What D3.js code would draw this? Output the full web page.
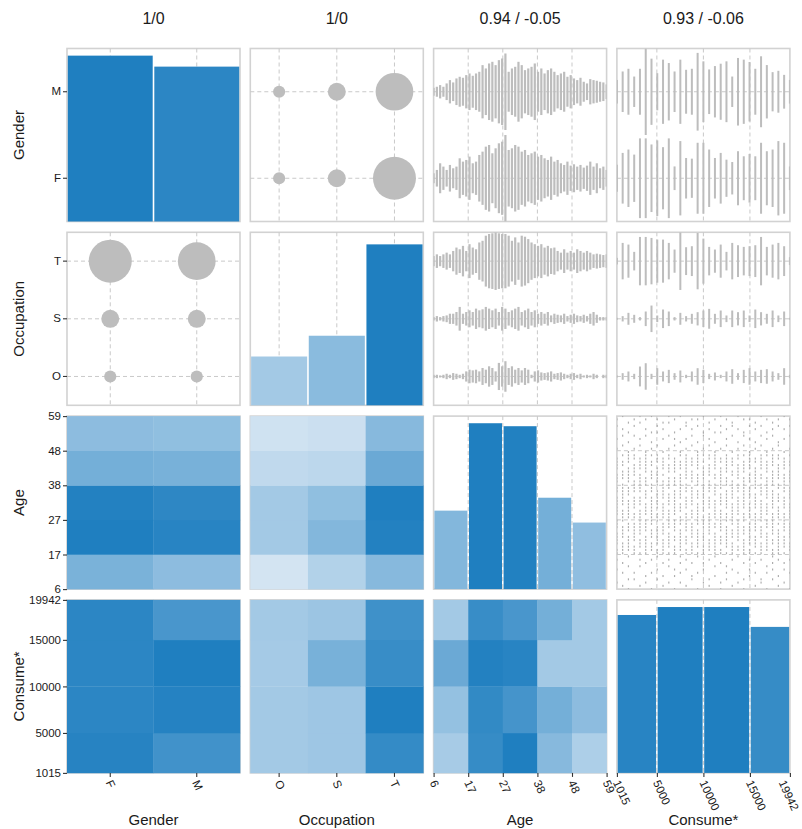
<!DOCTYPE html>
<html><head><meta charset="utf-8">
<script src="https://cdn.jsdelivr.net/npm/d3@7"></script>
<style>
body{margin:0;background:#fff;}
svg text{font-family:"Liberation Sans",Arial,Helvetica,sans-serif;fill:#1a1a1a;}
</style></head><body>
<svg id="chart" width="802" height="829"></svg>
<script>
// ---------------- DATA ----------------
const varNames = ["Gender","Occupation","Age","Consume*"];
const headerLabels = ["1/0","1/0","0.94 / -0.05","0.93 / -0.06"];
const genderCats = ["F","M"];
const occupationCats = ["O","S","T"];
const ageLevels = d3.range(6,60);
const ageBinEdges = [6,16.6,27.2,37.8,48.4,59];
const consumeBinEdges = [1015,5000,10000,15000,19942];
const consumeLevels = [1015,1590,2165,2740,3315,3890,4465,5043,5663,6283,6902,7522,8141,8761,9380,10000,10619,11239,11859,12478,13098,13717,14337,14956,15663,16376,17090,17803,18516,19229,19942];

// diagonal histograms
const genderHist = [166,155];
const occupationHist = [47,67,155];
const ageHist = [79,167,164,92,67];
const consumeHist = [159,167,167,147];

// Gender x Occupation counts (bubble)
const bubbleF = [8,17.5,100];
const bubbleM = [8,17.5,77];

// Age (6..59) counts per gender
const ageCountF = [15,25,45,35,25,40,30,35,60,50,55,65,45,50,70,80,95,100,75,90,105,110,130,85,90,100,95,80,85,70,75,80,65,70,60,55,65,50,55,45,40,50,38,42,35,40,32,38,50,35,45,30,35,25];
const ageCountM = [12,15,20,15,25,35,28,40,45,42,50,55,48,55,60,80,70,85,90,80,95,100,115,60,70,75,90,80,65,70,75,85,60,70,55,65,70,60,50,55,60,45,50,40,35,42,30,25,38,35,33,30,28,22];
// Age counts per occupation
const ageCountO = [5,5,3,5,8,5,10,8,5,8,15,20,18,20,15,25,20,30,25,15,40,30,45,25,30,20,25,18,25,20,5,15,18,12,10,12,15,8,10,12,8,5,8,10,5,8,3,5,3,8,5,0,5,5];
const ageCountS = [5,8,5,8,10,15,15,20,35,15,20,25,20,30,25,28,35,30,25,30,20,35,30,20,25,30,35,20,25,30,20,25,15,20,15,20,10,15,12,10,15,8,12,15,10,8,12,8,15,20,12,5,5,5];
const ageCountT = [15,20,15,20,25,20,30,40,35,45,30,50,40,35,55,60,75,80,82,85,82,80,80,75,60,70,55,75,72,65,55,50,45,50,40,45,38,40,30,25,35,25,30,25,35,30,25,30,25,20,22,20,18,20];
// Consume level counts per gender
const consumeCountF = [40,75,85,70,118,118,100,112,92,118,35,110,60,58,105,105,85,60,75,55,48,80,65,72,65,105,80,85,110,105,35];
const consumeCountM = [35,60,68,45,68,128,98,55,95,85,60,95,65,68,115,90,66,76,83,90,45,100,95,88,68,105,79,58,62,50,35];
// Consume level counts per occupation
const consumeCountO = [3,10,15,8,30,40,8,25,15,20,10,18,5,15,25,20,8,12,5,15,22,10,20,25,15,20,22,15,10,25,5];
const consumeCountS = [3,8,18,12,5,22,40,10,28,22,5,18,8,15,20,25,30,15,25,10,25,20,25,10,28,20,15,25,10,22,3];
const consumeCountT = [10,55,50,28,73,73,70,65,65,55,35,87,42,45,85,68,43,35,50,28,55,48,43,45,48,73,43,50,55,45,12];

// heatmaps: Age bins (young -> old)
const heatAgeF = [52,100,98,55,42];
const heatAgeM = [42,95,92,53,40];
const heatAgeO = [5,30,30,15,7];
const heatAgeS = [22,47,40,17,9];
const heatAgeT = [45,98,100,60,45];
// heatmaps: Consume bins (low -> high)
const heatConsumeF = [96,93,93,93];
const heatConsumeM = [82,97,100,78];
const heatConsumeO = [30,30,29,30];
const heatConsumeS = [33,33,53,34];
const heatConsumeT = [89,100,87,83];
// Consume bins per Age bin
const heatConsumeAge0 = [28,38,60,30];
const heatConsumeAge1 = [88,90,98,87];
const heatConsumeAge2 = [100,80,95,78];
const heatConsumeAge3 = [45,55,30,55];
const heatConsumeAge4 = [25,42,30,30];

// Age x Consume dots: one string per consume level, one char per age 6..59
const ageConsumeDots = [
"001000100101101111011101111110110111011110010010001010",
"010001001001111011110111101111111011101101001001010001",
"100100010010111110111011111101110111110111100100100100",
"000101000001110111111011011110111101111011010001001010",
"010000010101011101111111101110111111011110001010000101",
"001010001001111110111101111011101110111111100001010010",
"100001000100111011101111111110111011101101010100100001",
"000100100011101111110111011111101111110111001000101010",
"010010001001111101111011111011111101011110100010010100",
"001000010101011111011111101111011110111011010001000101",
"100010100001110110111101111111101110111110001010100010",
"001001001010111111101110111011111111011101100100010001",
"010000100101101110111111011110111011111111010010001100",
"000110001001111011111011101111110111101110001001010010",
"100001000011011111101111111011101111011111100100001010",
"001000101001110111011110111111111011110101010001100001",
"010100000100111101111111011110111101111011001010010100",
"000010010011111111011011111101111011011111100100100010",
"101000001001101110111111101111011111110110010000101001",
"000101010001011111110111011111101110111111001010010010",
"010000100101111011101111111011111101101110100001001100",
"001001000010110111111101111110111011111011010100010001",
"100100001001111101110111011111111110111101001001100010",
"000010100101101111111011111011110111011111100010001010",
"010001001001011110111111011111011111110110010100010100",
"001100000101111011110111111101111011011111001001001001",
"100001010000111111011101111011111110111101100010100010",
"000100101011101101111111011111101111101111010001010100",
"010010000101111111101011110111011011111011001100001010",
"001000101001011110111111011110111111011110100010010001",
"100001000100111011111011111011110111101101010001001010"
];

// ---------------- LAYOUT ----------------
const svg = d3.select("#chart");
const size = 173;
const colX = j => 67 + j*183.3;
const rowY = i => 48.5 + i*183.8;
const interp = d3.interpolateRgb("#dce9f5","#1f7fc0");
const gray = "#bdbdbd";
const gridColor = "#c9c9c9";

svg.append("defs").append("clipPath").attr("id","clip")
  .append("rect").attr("x",0).attr("y",0).attr("width",size).attr("height",size);

const vars = [
  {key:"gender", type:"cat", cats:genderCats},
  {key:"occupation", type:"cat", cats:occupationCats},
  {key:"age", type:"num", edges:ageBinEdges, levels:ageLevels},
  {key:"consume", type:"num", edges:consumeBinEdges, levels:consumeLevels}
];
const consumeFrac = [0,0.231,0.5,0.769,1];

function scaleFor(v, axis){
  const r = axis==="x" ? [0,size] : [size,0];
  if (v.type==="cat") return d3.scaleBand().domain(v.cats).range(r);
  if (v.key==="age") return d3.scaleLinear().domain([6,59]).range(r);
  return d3.scaleLinear().domain(consumeBinEdges)
    .range(consumeFrac.map(f => axis==="x" ? f*size : size - f*size));
}
function gridV(g, xs){
  g.selectAll(null).data(xs).join("line")
    .attr("x1",d=>d).attr("x2",d=>d).attr("y1",0).attr("y2",size)
    .attr("stroke",gridColor).attr("stroke-width",1).attr("stroke-dasharray","4,3");
}
function gridH(g, ys){
  g.selectAll(null).data(ys).join("line")
    .attr("y1",d=>d).attr("y2",d=>d).attr("x1",0).attr("x2",size)
    .attr("stroke",gridColor).attr("stroke-width",1).attr("stroke-dasharray","4,3");
}
function centers(v, s){ return v.cats.map(c => s(c) + s.bandwidth()/2); }
function innerEdges(v, s){ return v.edges.slice(1,-1).map(e => s(e)); }

const histData = [genderHist, occupationHist, ageHist, consumeHist];
const bubbleByGender = {F:bubbleF, M:bubbleM};
const stripData = {
  "gender-age": {levels:ageLevels, counts:{F:ageCountF, M:ageCountM}, w:2.2},
  "gender-consume": {levels:consumeLevels, counts:{F:consumeCountF, M:consumeCountM}, w:2.0},
  "occupation-age": {levels:ageLevels, counts:{O:ageCountO, S:ageCountS, T:ageCountT}, w:2.2},
  "occupation-consume": {levels:consumeLevels, counts:{O:consumeCountO, S:consumeCountS, T:consumeCountT}, w:2.0}
};
const heatData = {
  "age-gender": [heatAgeF, heatAgeM],
  "age-occupation": [heatAgeO, heatAgeS, heatAgeT],
  "consume-gender": [heatConsumeF, heatConsumeM],
  "consume-occupation": [heatConsumeO, heatConsumeS, heatConsumeT],
  "consume-age": [heatConsumeAge0, heatConsumeAge1, heatConsumeAge2, heatConsumeAge3, heatConsumeAge4]
};

function drawHist(g, v, counts){
  const x = scaleFor(v,"x");
  const maxC = d3.max(counts);
  const y = d3.scaleLinear().domain([0, maxC*1.043]).range([size,0]);
  let bars;
  if (v.type==="cat"){
    gridV(g, centers(v,x));
    bars = v.cats.map((c,k)=>({x0:x(c), x1:x(c)+x.bandwidth(), n:counts[k]}));
  } else {
    gridV(g, innerEdges(v,x));
    bars = counts.map((n,k)=>({x0:x(v.edges[k]), x1:x(v.edges[k+1]), n}));
  }
  const yTop = v.key==="occupation" ? d3.scaleLinear().domain([0, maxC*1.075]).range([size,0]) : y;
  g.selectAll(null).data(bars).join("rect")
    .attr("x",d=>d.x0+0.8).attr("width",d=>d.x1-d.x0-1.6)
    .attr("y",d=>yTop(d.n)).attr("height",d=>size-yTop(d.n))
    .attr("fill",d=>interp(d.n/maxC));
}

function drawBubbles(g, rowV, colV){
  const y = scaleFor(rowV,"y"), x = scaleFor(colV,"x");
  gridV(g, centers(colV,x)); gridH(g, centers(rowV,y));
  const cells = [];
  genderCats.forEach(gc => occupationCats.forEach((oc,k) => {
    const n = bubbleByGender[gc][k];
    const rc = rowV.key==="gender" ? gc : oc;
    const cc = colV.key==="gender" ? gc : oc;
    cells.push({rc, cc, n});
  }));
  const maxN = d3.max(cells, d=>d.n);
  const r = d3.scaleSqrt().domain([0,maxN]).range([0,21.5]);
  g.selectAll(null).data(cells).join("circle")
    .attr("cx",d=>x(d.cc)+x.bandwidth()/2).attr("cy",d=>y(d.rc)+y.bandwidth()/2)
    .attr("r",d=>r(d.n)).attr("fill",gray);
}

function drawStrips(g, rowV, colV){
  const y = scaleFor(rowV,"y"), x = scaleFor(colV,"x");
  const sd = stripData[rowV.key+"-"+colV.key];
  gridV(g, innerEdges(colV,x)); gridH(g, centers(rowV,y));
  const bw = y.bandwidth();
  const data = rowV.cats.flatMap(c => sd.counts[c].map((n,k)=>({c, lv:sd.levels[k], n})));
  const maxN = d3.max(data, d=>d.n);
  g.append("g").attr("clip-path","url(#clip)").selectAll("rect").data(data).join("rect")
    .attr("x",d=>x(d.lv)-sd.w/2).attr("width",sd.w)
    .attr("y",d=>y(d.c)+bw/2 - (d.n/maxN)*bw/2)
    .attr("height",d=>(d.n/maxN)*bw)
    .attr("fill",gray);
}

function drawHeat(g, rowV, colV){
  const y = scaleFor(rowV,"y"), x = scaleFor(colV,"x");
  const cols = heatData[rowV.key+"-"+colV.key];
  const cells = [];
  cols.forEach((arr,ci) => arr.forEach((n,ri) => {
    let x0,x1;
    if (colV.type==="cat"){ x0 = x(colV.cats[ci]); x1 = x0 + x.bandwidth(); }
    else { x0 = x(colV.edges[ci]); x1 = x(colV.edges[ci+1]); }
    const y0 = y(rowV.edges[ri+1]), y1 = y(rowV.edges[ri]);
    cells.push({x0,x1,y0,y1,n});
  }));
  const maxN = d3.max(cells,d=>d.n);
  g.selectAll(null).data(cells).join("rect")
    .attr("x",d=>d.x0).attr("width",d=>d.x1-d.x0+0.3)
    .attr("y",d=>d.y0).attr("height",d=>d.y1-d.y0+0.3)
    .attr("fill",d=>interp(d.n/maxN));
}

function drawDots(g, rowV, colV){
  const y = scaleFor(rowV,"y"), x = scaleFor(colV,"x");
  gridV(g, innerEdges(colV,x)); gridH(g, innerEdges(rowV,y));
  const pts = [];
  ageConsumeDots.forEach((s,k) => {
    for (let a=0; a<Math.min(s.length, ageLevels.length); a++)
      if (s[a]==="1") pts.push({c:consumeLevels[k], age:ageLevels[a]});
  });
  g.append("g").attr("clip-path","url(#clip)").selectAll("rect").data(pts).join("rect")
    .attr("x",d=>x(d.c)-0.6).attr("width",1.2)
    .attr("y",d=>y(d.age)-1).attr("height",2)
    .attr("fill","#adadad");
}

for (let i=0;i<4;i++){
  for (let j=0;j<4;j++){
    const g = svg.append("g").attr("transform",`translate(${colX(j)},${rowY(i)})`);
    g.append("rect").attr("x",0).attr("y",0).attr("width",size).attr("height",size)
      .attr("fill","#fff").attr("stroke","#d2d2d2").attr("stroke-width",1.6);
    const rv = vars[i], cv = vars[j];
    if (i===j) drawHist(g, rv, histData[i]);
    else if (rv.type==="cat" && cv.type==="cat") drawBubbles(g, rv, cv);
    else if (rv.type==="cat") drawStrips(g, rv, cv);
    else if (cv.type==="cat") drawHeat(g, rv, cv);
    else if (rv.key==="age") drawDots(g, rv, cv);
    else drawHeat(g, rv, cv);
  }
}

// ---------------- AXES ----------------
function fmtFor(v){
  if (v.type==="cat") return d => d;
  if (v.key==="age") return d3.format(".0f");
  return d => String(d);
}
function styleAxis(ax){
  ax.attr("font-size",null).attr("font-family",null);
  ax.select(".domain").remove();
  ax.selectAll(".tick line").attr("stroke","#333").attr("stroke-width",1.1);
  ax.selectAll(".tick text").style("font-size","11.5px").attr("fill","#1a1a1a");
}
for (let i=0;i<4;i++){
  const v = vars[i];
  const s = scaleFor(v,"y");
  const axis = d3.axisLeft(s).tickSize(4).tickPadding(2).tickSizeOuter(0).tickFormat(fmtFor(v));
  if (v.type==="num") axis.tickValues(v.edges);
  const ax = svg.append("g").attr("transform",`translate(${colX(0)},${rowY(i)})`).call(axis);
  styleAxis(ax);
}
for (let j=0;j<4;j++){
  const v = vars[j];
  const s = scaleFor(v,"x");
  const axis = d3.axisBottom(s).tickSize(4).tickSizeOuter(0).tickFormat(fmtFor(v));
  if (v.type==="num") axis.tickValues(v.edges);
  const ax = svg.append("g").attr("transform",`translate(${colX(j)},${rowY(3)+size})`).call(axis);
  styleAxis(ax);
  ax.selectAll(".tick text").attr("x",0).attr("y",0).attr("dy","0.35em")
    .attr("text-anchor","start").attr("transform","translate(-1,8) rotate(65)")
    .each(function(){
      // keep a label inside the picture if it would run past the right edge
      const bb = this.getBoundingClientRect();
      const over = bb.right - 801;
      if (over > 0) d3.select(this).attr("transform",`translate(${-1-over},8) rotate(65)`);
    });
}

// headers and variable labels
svg.selectAll(null).data(headerLabels).join("text")
  .attr("x",(d,j)=>colX(j)+size/2).attr("y",24).attr("text-anchor","middle")
  .style("font-size","16px").text(d=>d);
svg.selectAll(null).data(varNames).join("text")
  .attr("x",(d,j)=>colX(j)+size/2).attr("y",825).attr("text-anchor","middle")
  .style("font-size","15px").text(d=>d);
svg.selectAll(null).data(varNames).join("text")
  .attr("transform",(d,i)=>`translate(24,${rowY(i)+size/2}) rotate(-90)`)
  .attr("text-anchor","middle").style("font-size","15px").text(d=>d);
</script>
</body></html>
